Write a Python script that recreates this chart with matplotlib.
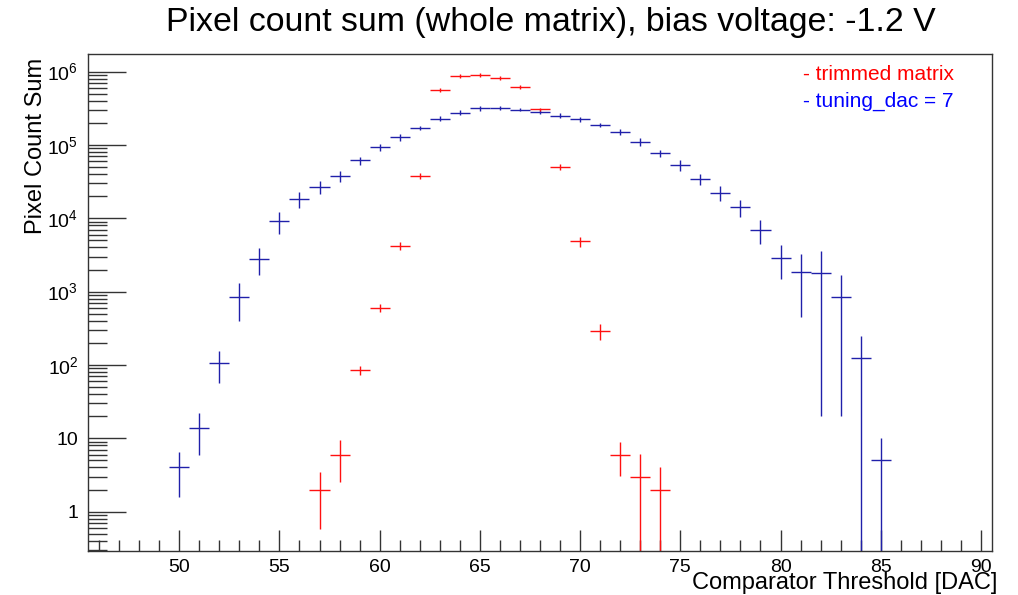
import numpy as np
import matplotlib
matplotlib.use("Agg")
import matplotlib.pyplot as plt
from matplotlib.ticker import FixedLocator, MultipleLocator, NullFormatter

plt.rcParams['font.family'] = ['Liberation Sans', 'DejaVu Sans']
plt.rcParams['mathtext.fontset'] = 'custom'
plt.rcParams['mathtext.rm'] = 'Liberation Sans'
plt.rcParams['mathtext.it'] = 'Liberation Sans'

# threshold bins (DAC) and counts
x_trim = np.arange(57, 75)
trim = [2, 6, 85, 600, 4200, 38000, 561000, 871000, 908000, 818000, 617000,
        305000, 49900, 4830, 290, 6, 3, 2]
trim_err = [1.43, 3.5, 13, 70, 500, 3400, 34000, 50000, 50000, 45000, 35000,
            19000, 5000, 720, 70, 2.9, 3.05, 2.05]

x_tune = np.arange(50, 86)
tune = [4, 14, 106, 850, 2800, 9250, 18300, 26700, 38000, 61500, 92500, 128000,
        170000, 228000, 277000, 315000, 319000, 302000, 284000, 250000, 223000,
        187000, 150000, 111000, 77600, 53200, 34300, 22100, 14200, 6900, 2870,
        1845, 1800, 840, 124, 5]
tune_err = [2.4, 8, 49, 455, 1100, 3100, 4600, 5500, 6300, 7400, 10000, 13000,
            12500, 18000, 22000, 22000, 17000, 14000, 20000, 20000, 18000, 12500,
            13500, 14000, 8000, 9000, 6000, 5100, 3800, 2500, 1400, 1400, 1780,
            820, 125, 5]

y_major = [1, 10, 1e2, 1e3, 1e4, 1e5, 1e6]
y_labels = ['1', '10', '$10^{2}$', '$10^{3}$', '$10^{4}$', '$10^{5}$', '$10^{6}$']


def asym(y, e):
    # lower bar stops just above zero so the log axis shows it running off the bottom
    y = np.asarray(y, float)
    e = np.asarray(e, float)
    lo = np.minimum(e, y - 1e-3)
    return [lo, e]


fig = plt.figure(figsize=(10.18, 5.95), dpi=100)
ax = fig.add_axes([88 / 1018, 44 / 595, 904 / 1018, 497 / 595])

ax.set_yscale('log')
ax.errorbar(x_tune, tune, xerr=0.5, yerr=asym(tune, tune_err), fmt='none',
            ecolor='#2020aa', elinewidth=1.0, capsize=0)
ax.errorbar(x_trim, trim, xerr=0.5, yerr=asym(trim, trim_err), fmt='none',
            ecolor='#ff1010', elinewidth=1.0, capsize=0)

ax.set_xlim(45.45, 90.55)
ax.set_ylim(0.29, 1.74e6)

ax.xaxis.set_major_locator(MultipleLocator(5))
ax.xaxis.set_minor_locator(MultipleLocator(1))
ax.yaxis.set_major_locator(FixedLocator(y_major))
ax.set_yticklabels(y_labels)
minors = [m * 10.0 ** d for d in range(-1, 7) for m in range(2, 10)]
ax.yaxis.set_minor_locator(FixedLocator(minors))
ax.yaxis.set_minor_formatter(NullFormatter())

ax.tick_params(axis='x', which='major', direction='in', length=15, width=1,
               labelsize=14, pad=6, top=False, color='#333333')
ax.tick_params(axis='x', which='minor', direction='in', length=8, width=1,
               top=False, color='#333333')
ax.tick_params(axis='y', which='major', direction='in', length=27, width=1,
               labelsize=14, pad=7, right=False, color='#333333')
ax.tick_params(axis='y', which='minor', direction='in', length=14, width=1,
               right=False, color='#333333')
for s in ax.spines.values():
    s.set_color('#333333')
    s.set_linewidth(1)

fig.text(551 / 1018, 1 - 22 / 595, 'Pixel count sum (whole matrix), bias voltage: -1.2 V',
         ha='center', va='center', fontsize=24.4)
fig.text(997 / 1018, 1 - 583 / 595, 'Comparator Threshold [DAC]',
         ha='right', va='center', fontsize=17)
fig.text(36 / 1018, 1 - 58 / 595, 'Pixel Count Sum', rotation=90,
         ha='center', va='top', fontsize=17)

fig.text(803 / 1018, 1 - 75 / 595, '- trimmed matrix', color='red',
         ha='left', va='center', fontsize=15)
fig.text(803 / 1018, 1 - 101 / 595, '- tuning_dac = 7', color='blue',
         ha='left', va='center', fontsize=15)

fig.savefig('out.png', dpi=100)
